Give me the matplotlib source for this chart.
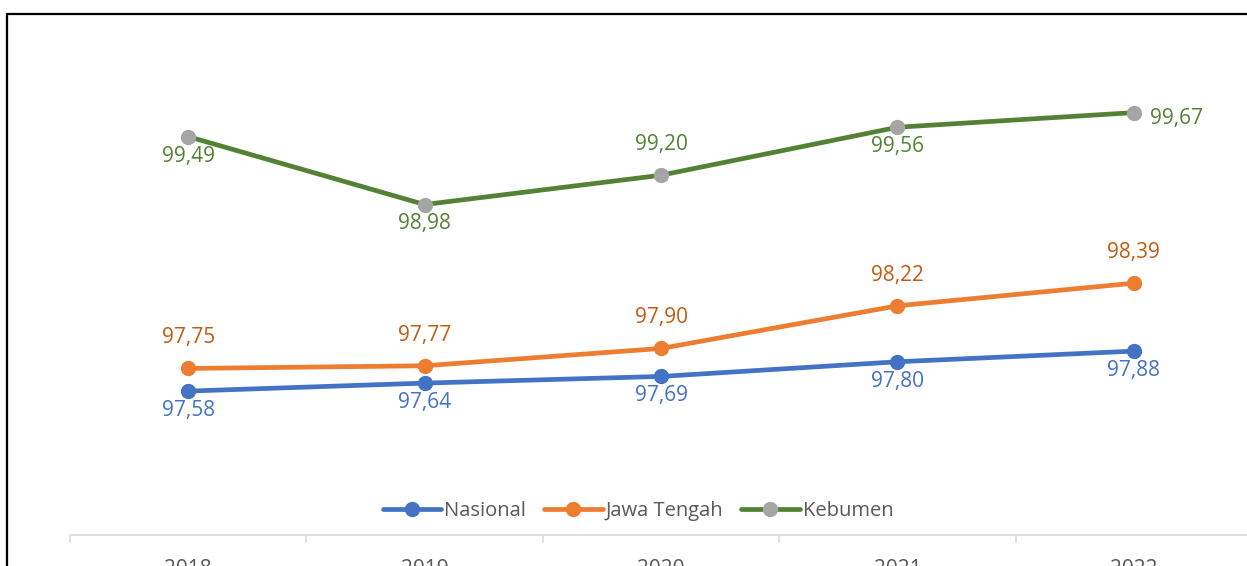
import matplotlib
matplotlib.use("Agg")
import matplotlib.pyplot as plt
from matplotlib.patches import Rectangle

plt.rcParams['font.family'] = ['Open Sans', 'DejaVu Sans']

years = [2018, 2019, 2020, 2021, 2022]
nasional = [97.58, 97.64, 97.69, 97.80, 97.88]
jateng = [97.75, 97.77, 97.90, 98.22, 98.39]
kebumen = [99.49, 98.98, 99.20, 99.56, 99.67]

series_names = ['Nasional', 'Jawa Tengah', 'Kebumen']
line_colors = ['#4472c4', '#ed7d31', '#548235']
marker_colors = ['#4472c4', '#ed7d31', '#a5a5a5']
label_colors = ['#4472c4', '#c55a11', '#548235']
# where each data label sits
placements = [
    ['below'] * 5,
    ['above'] * 5,
    ['below', 'below', 'above', 'below', 'right'],
]

W, H = 1247, 566
fig = plt.figure(figsize=(W / 100, H / 100), dpi=100)

ax_left, ax_right = 70, 1252
ax_bottom, ax_top = 535, 14
ax = fig.add_axes([ax_left / W, 1 - ax_bottom / H,
                   (ax_right - ax_left) / W, (ax_bottom - ax_top) / H])

offsets = {'below': (0, -14), 'above': (0, 22), 'right': (12, -4)}
handles = []
for vals, name, lc, mc, tc, pl in zip([nasional, jateng, kebumen], series_names,
                                      line_colors, marker_colors, label_colors,
                                      placements):
    h, = ax.plot(years, vals, color=lc, lw=3.4, marker='o', ms=10,
                 mfc=mc, mec=mc, label=name, solid_capstyle='round', zorder=3)
    handles.append(h)
    for x, v, p in zip(years, vals, pl):
        txt = f"{v:.2f}".replace('.', ',')
        ha = 'left' if p == 'right' else 'center'
        ax.annotate(txt, (x, v), xytext=offsets[p], textcoords='offset points',
                    ha=ha, va='center', color=tc, fontsize=15)

ax.set_xlim(2017.5, 2022.5)
ax.set_ylim(96.5, 100.41)
ax.set_yticks([])
for s in ['left', 'right', 'top']:
    ax.spines[s].set_visible(False)
ax.spines['bottom'].set_color('#d9d9d9')
ax.spines['bottom'].set_linewidth(1.2)
ax.set_xticks(years)
ax.set_xticklabels([str(y) for y in years])
ax.set_xticks([2017.5, 2018.5, 2019.5, 2020.5, 2021.5, 2022.5], minor=True)
ax.tick_params(axis='x', which='major', length=0, pad=17, labelsize=15,
               labelcolor='#595959')
ax.tick_params(axis='x', which='minor', length=6, width=1.1, color='#d9d9d9',
               direction='out')

fig.legend(handles=handles, loc='center', bbox_to_anchor=(638 / W, 1 - 511 / H),
           ncol=3, frameon=False, handlelength=2.9, handletextpad=0.15,
           columnspacing=0.9, fontsize=14.5, labelcolor='#595959')

# chart frame
fig.add_artist(Rectangle((7 / W, -0.2), 1.2, 1.2 - 14 / H,
                         transform=fig.transFigure, fill=False, ec='black',
                         lw=1.6, clip_on=False))

fig.savefig('out.png', dpi=100)
